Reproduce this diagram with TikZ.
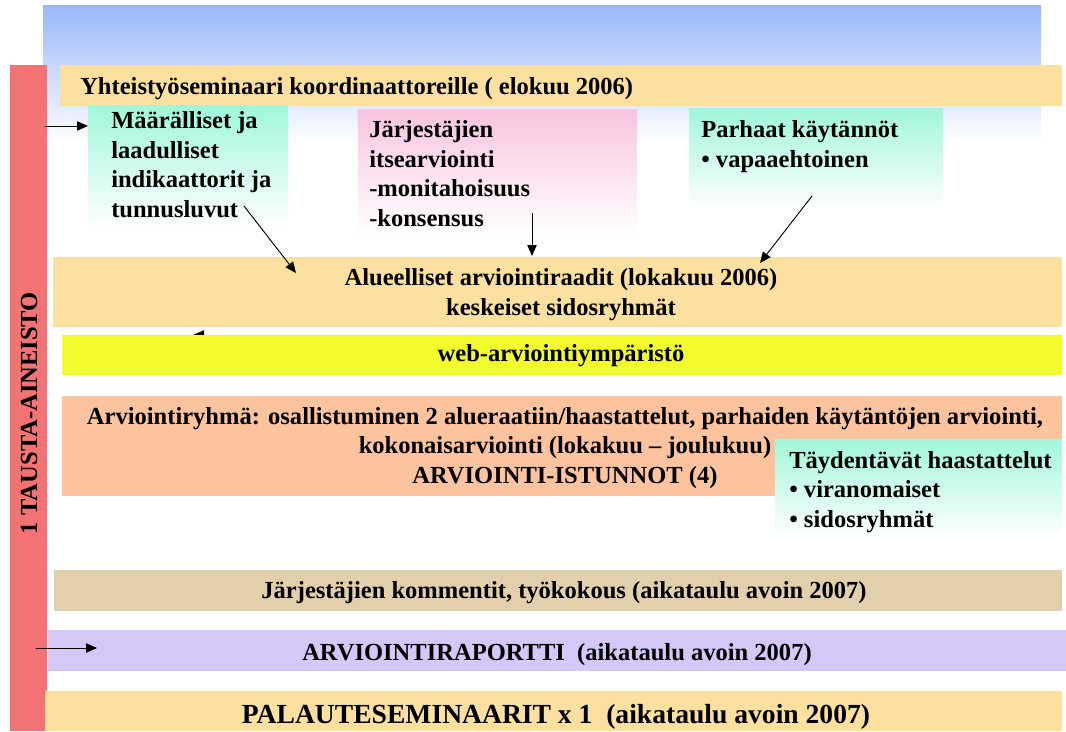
\documentclass[tikz,border=0pt]{standalone}
\usepackage{fontspec}
\setmainfont{Liberation Serif}
\usetikzlibrary{arrows.meta}

\begin{document}
\begin{tikzpicture}[x=0.75pt,y=0.75pt,yscale=-1,xscale=1,
  lbl/.style={inner sep=0.75pt,font=\fontsize{18.4}{22.1}\selectfont\bfseries},
  peachbar/.style={fill={rgb, 255:red, 251; green, 224; blue, 159}},
  mintbox/.style={top color={rgb, 255:red, 160; green, 248; blue, 216},bottom color=white},
  arr/.style={-{Triangle[length=8.25pt,width=7pt]},line width=0.7pt}]
\useasboundingbox (0,0) rectangle (1066,731);

%Shape: Rectangle (top band)
\shade [top color={rgb, 255:red, 153; green, 184; blue, 248},bottom color=white] (43,6) rectangle (1041,143);
%Shape: Rectangle (side bar)
\fill [fill={rgb, 255:red, 242; green, 115; blue, 115}] (10,65) rectangle (47,731);
%Shape: Rectangle
\fill [peachbar] (60,65) rectangle (1062,106);
%Shape: Rectangle
\shade [mintbox] (88,106) rectangle (288,228);
%Shape: Rectangle
\shade [top color={rgb, 255:red, 248; green, 196; blue, 224},bottom color=white] (358,110) rectangle (637,234);
%Shape: Rectangle
\shade [mintbox] (689,109) rectangle (943,208);
%Shape: Rectangle
\fill [peachbar] (53,257) rectangle (1062,327);

%Straight Lines
\coordinate (w1) at (215,335);
\coordinate (w2) at (193,335);
\draw [arr] (w1) -- (w2);
%Shape: Rectangle
\fill [fill={rgb, 255:red, 242; green, 252; blue, 42}] (62,335) rectangle (1062,375);
%Shape: Rectangle
\fill [fill={rgb, 255:red, 252; green, 196; blue, 158}] (62,396) rectangle (1062,496);
%Shape: Rectangle
\shade [mintbox] (775,439) rectangle (1062,537);
%Shape: Rectangle
\fill [fill={rgb, 255:red, 226; green, 208; blue, 172}] (54,570) rectangle (1062,611);
%Shape: Rectangle
\fill [fill={rgb, 255:red, 212; green, 200; blue, 248}] (48,630) rectangle (1066,671);
%Shape: Rectangle
\fill [peachbar] (45,691) rectangle (1062,731);

% Text Node
\node (tausta) at (29,413) [rotate=90][lbl] {1 TAUSTA-AINEISTO};
% Text Node
\node (yht) at (79,95) [anchor=base west][lbl] {Yhteistyöseminaari koordinaattoreille ( elokuu 2006)};
% Text Node
\node (maar) at (110,217) [anchor=base west][lbl,align=left] {Määrälliset ja\\laadulliset\\indikaattorit ja\\tunnusluvut};
% Text Node
\node (jarj) at (368,226) [anchor=base west][lbl,align=left] {Järjestäjien\\itsearviointi\\-monitahoisuus\\-konsensus};
% Text Node
\node (parh) at (700,167) [anchor=base west][lbl,align=left] {Parhaat käytännöt\\\textbullet{} vapaaehtoinen};
% Text Node
\node (alue) at (561,315) [anchor=base][lbl,align=center] {Alueelliset arviointiraadit (lokakuu 2006)\\keskeiset sidosryhmät};
% Text Node
\node (web) at (561,361) [anchor=base][lbl] {web-arviointiympäristö};
% Text Node
\node (ryhma) at (565,483) [anchor=base][lbl,align=center] {Arviointiryhmä: osallistuminen 2 alueraatiin/haastattelut, parhaiden käytäntöjen arviointi,\\kokonaisarviointi (lokakuu – joulukuu)\\ARVIOINTI-ISTUNNOT (4)};
% Text Node
\node (tayd) at (788,527) [anchor=base west][lbl,align=left] {Täydentävät haastattelut\\\textbullet{} viranomaiset\\\textbullet{} sidosryhmät};
% Text Node
\node (komm) at (564,598) [anchor=base][lbl] {Järjestäjien kommentit, työkokous (aikataulu avoin 2007)};
% Text Node
\node (raportti) at (557,660) [anchor=base][lbl] {ARVIOINTIRAPORTTI\ \ (aikataulu avoin 2007)};
% Text Node
\node (palaute) at (556,723) [anchor=base][lbl,font=\fontsize{20.7}{24}\selectfont\bfseries] {PALAUTESEMINAARIT x 1\ \ (aikataulu avoin 2007)};

%Straight Lines
\coordinate (t1) at (45,126);
\coordinate (t2) at (88,126);
\draw [arr] (t1) -- (t2);
%Straight Lines
\coordinate (m1) at (244,206);
\coordinate (m2) at (296,273);
\draw [arr] (m1) -- (m2);
%Straight Lines
\coordinate (j1) at (532,213);
\coordinate (j2) at (532,256);
\draw [arr] (j1) -- (j2);
%Straight Lines
\coordinate (p1) at (812,196);
\coordinate (p2) at (760,263);
\draw [arr] (p1) -- (p2);
%Straight Lines
\coordinate (r1) at (36,648);
\coordinate (r2) at (97,648);
\draw [arr] (r1) -- (r2);

\end{tikzpicture}
\end{document}
